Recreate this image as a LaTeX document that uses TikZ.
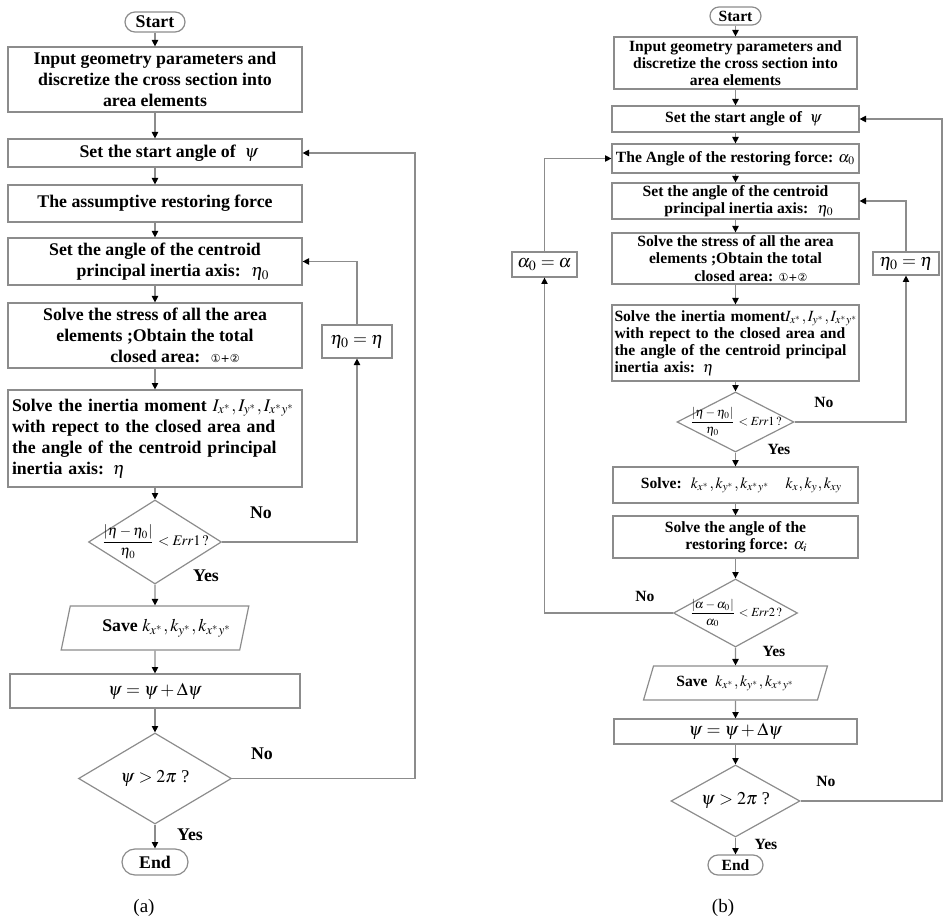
\documentclass[tikz,border=0pt]{standalone}
\usepackage{mathptmx}
\usepackage[no-math]{fontspec}
\setmainfont{Liberation Serif}
\newfontfamily\circfont{DejaVu Sans}
\usetikzlibrary{arrows.meta,shapes.geometric,shapes.misc}
\definecolor{linegray}{HTML}{8C8C8C}

\newcommand{\bigtxt}{\fontsize{8.9}{10.6}\selectfont\bfseries}
\newcommand{\smalltxt}{\fontsize{7.8}{8.6}\selectfont\bfseries}
\newcommand{\mathtxt}{\fontsize{9}{10}\selectfont}
\newcommand{\circnum}{{\circfont\mdseries\fontsize{5.5}{6}\selectfont ①+②}}

\begin{document}
\begin{tikzpicture}[x=0.5pt,y=-0.5pt,
  flowbox/.style={draw=linegray, line width=0.6pt, rectangle, inner sep=1pt, align=center},
  termbox/.style={draw=linegray, line width=0.6pt, rounded rectangle, inner sep=0pt},
  decision/.style={draw=linegray, line width=0.6pt, diamond, inner sep=0pt},
  savebox/.style={draw=linegray, line width=0.6pt, trapezium, trapezium left angle=65,
    trapezium right angle=115, trapezium stretches=true, inner sep=0pt},
  arr/.style={draw=linegray, line width=0.6pt, -{Triangle[length=3.2pt,width=3.2pt,color=black]}},
  tag/.style={font=\bigtxt}]
\useasboundingbox (0,0) rectangle (944,920);

% (a) main column
\node[termbox, minimum width=30pt, minimum height=10pt, font=\bigtxt] (startA) at (155,22) {Start};
\node[flowbox, minimum width=147pt, minimum height=32.5pt, font=\bigtxt] (inputA) at (155,79.5)
  {Input geometry parameters and\\ discretize the cross section into\\ area elements};
\node[flowbox, minimum width=147pt, minimum height=14pt, font=\bigtxt] (psiA) at (155,153)
  {\hspace*{14pt}Set the start angle of \ $\psi$};
\node[flowbox, minimum width=147pt, minimum height=18.5pt, font=\bigtxt] (forceA) at (155,203.5)
  {The assumptive restoring force};
\node[flowbox, minimum width=147pt, minimum height=23.5pt, font=\bigtxt] (etaA) at (155,261.5)
  {Set the angle of the centroid\\ \hspace*{18pt}principal inertia axis: \ $\eta_0$};
\node[flowbox, minimum width=147pt, minimum height=32.5pt, font=\bigtxt] (stressA) at (155,335.5)
  {Solve the stress of all the area\\ elements ;Obtain the total\\ \hspace*{20pt}closed area: \ \circnum};
\node[flowbox, minimum width=147pt, minimum height=48.5pt, text width=143pt, align=left, font=\bigtxt] (inertiaA) at (155,438.5)
  {\mbox{Solve the inertia moment $I_{x^*},I_{y^*},I_{x^*y^*}$}\\ with repect to the closed area and\\ the angle of the centroid principal\\ inertia axis: $\eta$};
\node[decision, minimum width=66.5pt, minimum height=42pt,
  label={[font=\fontsize{7.3}{8}\selectfont]center:{$\displaystyle\frac{|\eta-\eta_0|}{\eta_0}<\mathit{Err}1\,?$}}] (errA) at (155,542) {};
\node[savebox, minimum width=94.5pt, minimum height=22pt, font=\bigtxt] (saveA) at (155,628)
  {\hspace*{12pt}Save $k_{x^*},k_{y^*},k_{x^*y^*}$};
\node[flowbox, minimum width=145pt, minimum height=17pt, font=\mathtxt] (stepA) at (155,691) {$\psi=\psi+\Delta\psi$};
\node[decision, minimum width=76.5pt, minimum height=45.5pt,
  label={[font=\mathtxt]center:{$\psi>2\pi$ ?}}] (turnA) at (155,778.5) {};
\node[termbox, minimum width=33pt, minimum height=13pt, font=\bigtxt] (endA) at (155,862) {End};
\node[flowbox, minimum width=35pt, minimum height=16.5pt, font=\mathtxt] (updA) at (357,341.5) {$\eta_0=\eta$};
\coordinate (loopA) at (415,0);

\node[tag] (noA1) at (261,513) {No};
\node[tag] (yesA1) at (206,576) {Yes};
\node[tag] (noA2) at (262,754) {No};
\node[tag] (yesA2) at (190,835) {Yes};
\node[font=\fontsize{9.5}{10}\selectfont] (capA) at (144,908) {(a)};

\foreach \a/\b in {startA/inputA, inputA/psiA, psiA/forceA, forceA/etaA, etaA/stressA,
  stressA/inertiaA, inertiaA/errA, errA/saveA, saveA/stepA, stepA/turnA, turnA/endA}
  \draw[arr] (\a.south) -- (\b.north);
\draw[arr] (errA.east) -| (updA.south);
\draw[arr] (updA.north) |- (etaA.east);
\draw[arr] (turnA.east) -- (turnA.east -| loopA) |- (psiA.east);

% (b) main column
\node[termbox, minimum width=25.5pt, minimum height=9pt, font=\smalltxt] (startB) at (735.5,16) {Start};
\node[flowbox, minimum width=121.5pt, minimum height=26pt, font=\smalltxt] (inputB) at (735.5,63)
  {Input geometry parameters and\\ discretize the cross section into\\ area elements};
\node[flowbox, minimum width=123.5pt, minimum height=13pt, font=\smalltxt] (psiB) at (735.5,119)
  {\hspace*{8pt}Set the start angle of \ $\psi$};
\node[flowbox, minimum width=123.5pt, minimum height=14.5pt, font=\smalltxt] (forceB) at (735.5,158.5)
  {The Angle of the restoring force: $\alpha_0$};
\node[flowbox, minimum width=123.5pt, minimum height=18pt, font=\smalltxt] (etaB) at (735.5,201)
  {Set the angle of the centroid\\ \hspace*{13.5pt}principal inertia axis: \ $\eta_0$};
\node[flowbox, minimum width=123.5pt, minimum height=25.5pt, font=\smalltxt] (stressB) at (735.5,258.5)
  {Solve the stress of all the area\\ elements ;Obtain the total\\ \hspace*{15.5pt}closed area: \circnum};
\node[flowbox, minimum width=123.5pt, minimum height=38pt, text width=121pt, align=left, font=\smalltxt] (inertiaB) at (735.5,343)
  {\mbox{Solve the inertia moment$I_{x^*},I_{y^*},I_{x^*y^*}$}\\ with repect to the closed area and\\ the angle of the centroid principal\\ inertia axis: $\eta$};
\node[decision, minimum width=58.5pt, minimum height=30pt,
  label={[font=\fontsize{6.2}{7}\selectfont]center:{$\displaystyle\frac{|\eta-\eta_0|}{\eta_0}<\mathit{Err}1\,?$}}] (errB) at (735.5,422) {};
\node[flowbox, minimum width=122.5pt, minimum height=18pt, font=\smalltxt] (solveB) at (735.5,485)
  {\hspace*{6pt}Solve: \ $k_{x^*},k_{y^*},k_{x^*y^*}$\quad $k_x,k_y,k_{xy}$};
\node[flowbox, minimum width=122.5pt, minimum height=21pt, font=\smalltxt] (angleB) at (735.5,537)
  {Solve the angle of the\\ \hspace*{11pt}restoring force: $\alpha_i$};
\node[decision, minimum width=62pt, minimum height=34pt,
  label={[font=\fontsize{6.2}{7}\selectfont]center:{$\displaystyle\frac{|\alpha-\alpha_0|}{\alpha_0}<\mathit{Err}2\,?$}}] (errB2) at (735.5,613) {};
\node[savebox, minimum width=92.5pt, minimum height=17pt, font=\smalltxt] (saveB) at (735.5,683)
  {Save \ $k_{x^*},k_{y^*},k_{x^*y^*}$};
\node[flowbox, minimum width=121.5pt, minimum height=12.5pt, font=\mathtxt] (stepB) at (735.5,731.5) {$\psi=\psi+\Delta\psi$};
\node[decision, minimum width=64.5pt, minimum height=36pt,
  label={[font=\mathtxt]center:{$\psi>2\pi$ ?}}] (turnB) at (735.5,801) {};
\node[termbox, minimum width=27.5pt, minimum height=10pt, font=\smalltxt] (endB) at (735.5,865) {End};
\node[flowbox, minimum width=32.5pt, minimum height=12.5pt, font=\mathtxt] (alphaB) at (544.5,264.5) {$\alpha_0=\alpha$};
\node[flowbox, minimum width=33pt, minimum height=11.5pt, font=\mathtxt] (updB) at (906,263.5) {$\eta_0=\eta$};
\coordinate (loopB) at (942,0);

\node[font=\smalltxt] (noB1) at (824,402) {No};
\node[font=\smalltxt] (yesB1) at (779,449) {Yes};
\node[font=\smalltxt] (noB2) at (645,596) {No};
\node[font=\smalltxt] (yesB2) at (774,651) {Yes};
\node[font=\smalltxt] (noB3) at (826,781) {No};
\node[font=\smalltxt] (yesB3) at (766,844) {Yes};
\node[font=\fontsize{9.5}{10}\selectfont] (capB) at (723,908) {(b)};

\foreach \a/\b in {startB/inputB, inputB/psiB, psiB/forceB, forceB/etaB, etaB/stressB,
  stressB/inertiaB, inertiaB/errB, errB/solveB, solveB/angleB, angleB/errB2, errB2/saveB,
  saveB/stepB, stepB/turnB, turnB/endB}
  \draw[arr] (\a.south) -- (\b.north);
\draw[arr] (errB.east) -| (updB.south);
\draw[arr] (updB.north) |- (etaB.east);
\draw[arr] (errB2.west) -| (alphaB.south);
\draw[arr] (alphaB.north) |- (forceB.west);
\draw[arr] (turnB.east) -- (turnB.east -| loopB) |- (psiB.east);
\end{tikzpicture}
\end{document}
